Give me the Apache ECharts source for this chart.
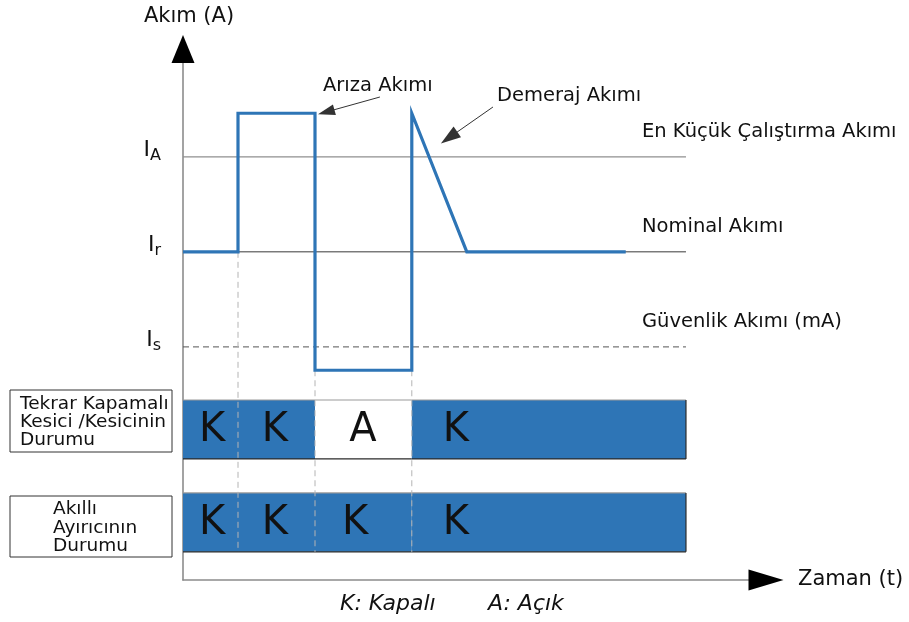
<!DOCTYPE html>
<html><head><meta charset="utf-8">
<script src="https://cdn.jsdelivr.net/npm/echarts@6/dist/echarts.min.js"></script>
<style>html,body{margin:0;padding:0;background:#fff}#c{width:909px;height:622px}</style>
</head><body><div id="c"></div>
<script>
// ---- data (abstract time / current units) ----
const currentT = [0, 10, 10, 24, 24, 41.6, 41.6, 51.6, 80.5];
const currentA = [61.8, 61.8, 87.9, 87.9, 39.5, 39.5, 87.9, 61.8, 61.8];

const levelSubscripts = ['A', 'r', 's'];
const levelValues = [79.7, 61.8, 43.9];
const levelDescriptions = ['En Küçük Çalıştırma Akımı', 'Nominal Akımı', 'Güvenlik Akımı (mA)'];
const levelEndT = 91.45;
const levelLabelT = 83.45;

const eventT = [10, 24, 41.6];
const eventStartA = [61.8, 39.5, 39.5];

const segmentBounds = [0, 10, 24, 41.6, 91.45];
const breakerStates = ['K', 'K', 'A', 'K'];
const breakerLabelT = [5.3, 16.7, 32.7, 49.6];
const sectionalizerStates = ['K', 'K', 'K', 'K'];
const sectionalizerLabelT = [5.3, 16.7, 31.3, 49.6];
const rowBands = [[22.8, 33.9], [5.3, 16.4]];
const rowTitles = ['Tekrar Kapamalı\nKesici /Kesicinin\nDurumu', 'Akıllı\nAyırıcının\nDurumu'];

const annotationTexts = ['Arıza Akımı', 'Demeraj Akımı'];
const annotationTextT = [25.45, 57.1];
const annotationTextA = [93.0, 91.15];
const arrowFrom = [[35.8, 90.96], [56.36, 89.08]];
const arrowTo = [[26.04, 88.14], [48.38, 83.3]];

const legendParts = ['K: Kapalı', 'A: Açık'];

// ---- styles ----
const FONT = 'DejaVu Sans';
const BLUE = '#2E75B6';
const TXT = '#111';
const AXIS_GRAY = '#8c8c8c';
const levelLineStyles = [
  {color: '#8f8f8f', width: 1.2, type: 'solid'},
  {color: '#3a3a3a', width: 1, type: 'solid'},
  {color: '#555', width: 1, type: [6, 4]}
];
const hiddenItem = {color: 'rgba(0,0,0,0)', opacity: 1};

const chart = echarts.init(document.getElementById('c'), null, {renderer: 'canvas'});

function stateSeries(states, labelT, row) {
  const data = states.map((s, i) => [segmentBounds[i], segmentBounds[i + 1], rowBands[row][0], rowBands[row][1], labelT[i]]);
  return {
    type: 'custom', z: 2, silent: true,
    data: data,
    renderItem: function (params, api) {
      const i = params.dataIndex;
      const x0 = api.value(0), x1 = api.value(1), y0 = api.value(2), y1 = api.value(3), lt = api.value(4);
      const tl = api.coord([x0, y1]), br = api.coord([x1, y0]);
      const st = states[i];
      const children = [
        {type: 'rect', shape: {x: tl[0], y: tl[1], width: br[0] - tl[0], height: br[1] - tl[1]},
          style: {fill: st === 'K' ? BLUE : '#fff'}},
        {type: 'line', shape: {x1: tl[0], y1: tl[1], x2: br[0], y2: tl[1]}, style: {stroke: '#9a9a9a', lineWidth: 1.2}},
        {type: 'line', shape: {x1: tl[0], y1: br[1], x2: br[0], y2: br[1]}, style: {stroke: '#2a2a2a', lineWidth: 1.2}}
      ];
      if (i === states.length - 1) {
        children.push({type: 'line', shape: {x1: br[0], y1: tl[1], x2: br[0], y2: br[1]}, style: {stroke: '#2a2a2a', lineWidth: 1.2}});
      }
      const lc = api.coord([lt, (y0 + y1) / 2]);
      children.push({type: 'text', style: {text: st, x: lc[0], y: lc[1] + 1, align: 'center', verticalAlign: 'middle',
        font: '40px "' + FONT + '"', fill: TXT}});
      return {type: 'group', children: children};
    }
  };
}

const series = [];

// reference level lines
levelValues.forEach(function (v, i) {
  series.push({
    type: 'line', z: 1, silent: true, showSymbol: false, symbol: 'none',
    data: [[0, v], [levelEndT, v]],
    lineStyle: levelLineStyles[i]
  });
});

// left level labels (I_A, I_r, I_s)
series.push({
  type: 'scatter', z: 6, silent: true, symbolSize: 0, itemStyle: hiddenItem,
  data: levelValues.map(v => [0, v]),
  label: {
    show: true, position: 'left', distance: 22, offset: [0, -7],
    formatter: p => '{m|I}{s|' + levelSubscripts[p.dataIndex] + '}',
    rich: {
      m: {fontSize: 22, lineHeight: 28, fontFamily: FONT, color: TXT},
      s: {fontSize: 16, lineHeight: 16, verticalAlign: 'bottom', fontFamily: FONT, color: TXT}
    }
  }
});

// right level descriptions
series.push({
  type: 'scatter', z: 6, silent: true, symbolSize: 0, itemStyle: hiddenItem,
  data: levelValues.map(v => [levelLabelT, v]),
  label: {
    show: true, position: 'right', distance: 0, offset: [0, -25],
    formatter: p => levelDescriptions[p.dataIndex],
    fontFamily: FONT, fontSize: 19.5, color: TXT
  }
});

// state bars
series.push(stateSeries(breakerStates, breakerLabelT, 0));
series.push(stateSeries(sectionalizerStates, sectionalizerLabelT, 1));

// event dashed verticals
eventT.forEach(function (t, i) {
  series.push({
    type: 'line', z: 3, silent: true, showSymbol: false, symbol: 'none',
    data: [[t, eventStartA[i]], [t, rowBands[1][0]]],
    lineStyle: {color: '#b4b4b4', width: 1, type: [6, 4]}
  });
});

// current curve
series.push({
  type: 'line', z: 5, silent: true, showSymbol: false, symbol: 'none',
  data: currentT.map((t, i) => [t, currentA[i]]),
  lineStyle: {color: BLUE, width: 3.2, join: 'miter'}
});

// annotations with arrows
series.push({
  type: 'scatter', z: 7, silent: true, symbolSize: 0, itemStyle: hiddenItem,
  data: annotationTexts.map((s, i) => [annotationTextT[i], annotationTextA[i]]),
  label: {
    show: true, position: 'right', distance: 0,
    formatter: p => annotationTexts[p.dataIndex],
    fontFamily: FONT, fontSize: 19.5, color: TXT
  },
  markLine: {
    silent: true, animation: false,
    symbol: ['none', 'triangle'],
    label: {show: false},
    lineStyle: {color: '#333', width: 1, type: 'solid'},
    data: [
      [{coord: arrowFrom[0], symbol: 'none'}, {coord: arrowTo[0], symbol: 'triangle', symbolSize: [11, 17]}],
      [{coord: arrowFrom[1], symbol: 'none'}, {coord: arrowTo[1], symbol: 'triangle', symbolSize: [13, 20]}]
    ]
  }
});

const hiddenParts = {axisTick: {show: false}, axisLabel: {show: false}, splitLine: {show: false}};

chart.setOption({
  animation: false,
  backgroundColor: '#fff',
  title: {
    text: '{a|' + legendParts[0] + '}{b|' + legendParts[1] + '}', left: 340, top: 593, padding: 0,
    textStyle: {
      fontFamily: FONT, fontStyle: 'italic', fontWeight: 'normal', fontSize: 22, color: TXT,
      rich: {
        a: {width: 148, fontFamily: FONT, fontStyle: 'italic', fontSize: 22, color: TXT},
        b: {fontFamily: FONT, fontStyle: 'italic', fontSize: 22, color: TXT}
      }
    }
  },
  grid: {left: 183, right: 143, top: 49, bottom: 42},
  xAxis: [
    Object.assign({type: 'value', min: 0, max: 106, position: 'bottom',
      axisLine: {show: true, onZero: false, lineStyle: {color: AXIS_GRAY, width: 1.6}},
      name: 'Zaman (t)', nameLocation: 'end', nameGap: 32,
      nameTextStyle: {fontFamily: FONT, fontSize: 21, color: TXT, padding: [0, 0, 14, 0]}}, hiddenParts),
    Object.assign({type: 'value', min: 0, max: 106, position: 'bottom',
      axisLine: {show: true, onZero: false, symbol: ['none', 'triangle'], symbolSize: [21, 35],
        lineStyle: {color: '#000', opacity: 0}}}, hiddenParts)
  ],
  yAxis: [
    Object.assign({type: 'value', min: 0, max: 100, position: 'left',
      axisLine: {show: true, onZero: false, lineStyle: {color: AXIS_GRAY, width: 1.6}},
      name: 'Akım (A)', nameLocation: 'end', nameGap: 22,
      nameTextStyle: {fontFamily: FONT, fontSize: 21, color: TXT, padding: [0, 0, 0, 12]}}, hiddenParts),
    Object.assign({type: 'value', min: 0, max: 100, position: 'left',
      axisLine: {show: true, onZero: false, symbol: ['none', 'triangle'], symbolSize: [23, 28],
        lineStyle: {color: '#000', opacity: 0}}}, hiddenParts)
  ],
  graphic: [
    {type: 'group', silent: true, children: [
      {type: 'rect', shape: {x: 10, y: 390, width: 162, height: 62}, style: {fill: '#fff', stroke: '#333', lineWidth: 1}},
      {type: 'text', x: 20, y: 395, style: {text: rowTitles[0], font: '18.5px "' + FONT + '"', lineHeight: 18, fill: TXT, verticalAlign: 'top'}}
    ]},
    {type: 'group', silent: true, children: [
      {type: 'rect', shape: {x: 10, y: 496, width: 162, height: 61}, style: {fill: '#fff', stroke: '#333', lineWidth: 1}},
      {type: 'text', x: 53, y: 500, style: {text: rowTitles[1], font: '18.5px "' + FONT + '"', lineHeight: 18.5, fill: TXT, verticalAlign: 'top'}}
    ]}
  ],
  series: series
});
</script>
</body></html>
